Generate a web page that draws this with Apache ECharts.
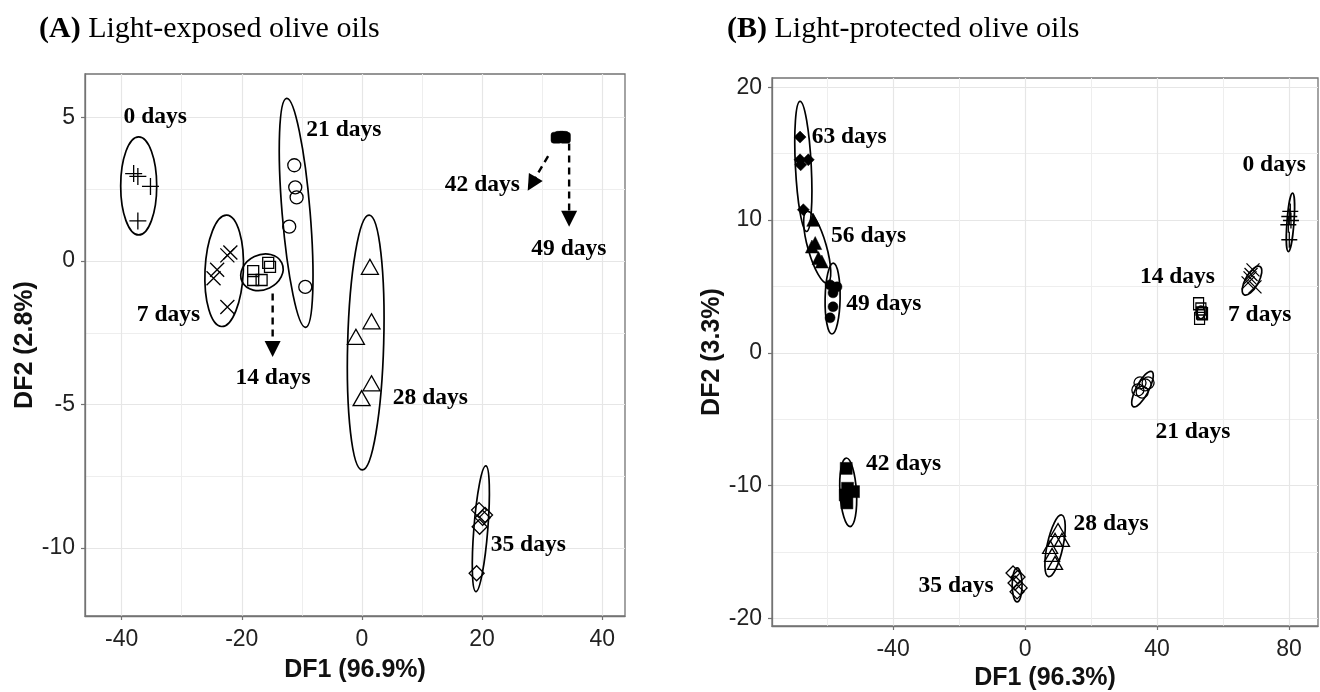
<!DOCTYPE html>
<html><head><meta charset="utf-8">
<script src="https://cdn.jsdelivr.net/npm/echarts@6/dist/echarts.min.js"></script>
<style>html,body{margin:0;padding:0;background:#fff}#c{width:1320px;height:692px}</style>
</head><body><div id="c"></div>
<script>
// ---------- Panel A: light-exposed ----------
const A_day0  = [[-38.0,3.05],[-37.3,2.95],[-35.2,2.6],[-37.3,1.4]];
const A_day7  = [[-21.9,0.3],[-22.4,0.2],[-24.1,-0.3],[-24.7,-0.6],[-22.4,-1.6]];
const A_day14 = [[-15.6,-0.06],[-15.3,-0.2],[-16.7,-0.66],[-18.1,-0.66],[-18.1,-0.35]];
const A_day21 = [[-11.26,3.34],[-11.1,2.57],[-10.87,2.22],[-12.1,1.2],[-9.43,-0.9]];
const A_day28 = [[1.33,-0.2],[1.6,-2.1],[-1.0,-2.64],[1.6,-4.26],[-0.05,-4.78]];
const A_day35 = [[19.5,-8.68],[20.5,-8.85],[20.1,-8.95],[19.6,-9.26],[19.1,-10.88]];
const A_day42_49 = [[32.4,4.3],[33.0,4.33],[33.5,4.33],[33.8,4.3]];
// ellipses: [centerX, centerY, majorHalfDX, majorHalfDY, minorHalfWidthX]
const A_ellipses = [
  [-37.16,2.62,0,1.71,3.0],
  [-22.93,-0.34,0.43,1.94,3.19],
  [-16.64,-0.39,3.3,0.33,2.9],
  [-10.95,1.68,-1.58,3.99,2.33],
  [0.63,-2.84,0.58,4.44,3.0],
  [19.8,-9.33,0.83,2.19,1.16]
];
// arrows: [fromX, fromY, tipX, tipY]
const A_arrows = [[-14.86,-1.13,-14.86,-3.34],[31.0,3.66,27.6,2.45],[34.5,4.1,34.5,1.2]];
const A_labels = [
  ['0 days',-34.4,5.03],['21 days',-3.0,4.56],['42 days',20.05,2.65],['49 days',34.45,0.44],
  ['7 days',-32.2,-1.88],['14 days',-14.8,-4.08],['28 days',11.4,-4.78],['35 days',27.7,-9.9]
];
const A_xTicks = [-40,-20,0,20,40], A_xMinor = [-30,-10,10,30];
const A_yTicks = [-10,-5,0,5], A_yMinor = [-7.5,-2.5,2.5];

// ---------- Panel B: light-protected ----------
const B_day0  = [[80.4,10.65],[80.1,10.27],[80.6,9.97],[79.8,9.65],[80.1,8.52]];
const B_day7  = [[52.6,3.7],[53.3,3.3],[53.8,2.95],[52.9,2.6],[53.5,3.0]];
const B_day14 = [[69.1,6.25],[68.5,5.9],[68.2,5.65],[67.6,5.27],[69.7,4.97]];
const B_day21 = [[34.85,-2.26],[36.4,-2.41],[37.3,-2.26],[34.2,-2.79],[35.5,-2.95]];
const B_day28 = [[10.0,-13.34],[9.1,-14.09],[11.2,-14.09],[7.6,-14.62],[8.2,-15.22],[9.1,-15.82]];
const B_day35 = [[-3.64,-16.58],[-2.12,-16.88],[-3.03,-17.33],[-2.42,-18.0],[-1.5,-17.7]];
const B_day42 = [[-54.2,-8.7],[-54.5,-10.7],[-52.0,-10.45],[-54.0,-11.3],[-53.8,-10.2]];
const B_day49 = [[-59.1,5.12],[-57.0,4.97],[-58.2,4.52],[-58.2,3.47],[-59.1,2.64]];
const B_day56 = [[-64.2,10.02],[-63.6,8.27],[-64.6,8.01],[-62.6,7.14],[-61.6,6.88]];
const B_day63 = [[-68.2,16.25],[-68.2,14.54],[-65.7,14.54],[-68.0,14.16],[-67.2,10.78]];
const B_ellipses = [
  [80.45,9.83,0.65,2.2,1.06],
  [53.3,3.05,0,0.48,1.2],
  [68.8,5.44,2.4,1.06,2.0],
  [35.6,-2.73,2.8,1.32,1.9],
  [9.1,-14.53,2.0,2.32,2.4],
  [-2.4,-17.48,0,1.28,1.5],
  [-53.6,-10.5,-0.6,2.58,2.5],
  [-58.33,4.09,0.2,2.67,2.27],
  [-63.0,7.95,-3.1,2.7,2.8],
  [-67.2,14.04,-1.0,4.9,2.4]
];
const B_labels = [
  ['0 days',75.5,14.17],['63 days',-53.3,16.3],['56 days',-47.4,8.82],['49 days',-42.8,3.69],
  ['14 days',46.2,5.7],['7 days',71.1,2.86],['21 days',50.9,-5.93],['42 days',-36.8,-8.36],
  ['28 days',26.1,-12.9],['35 days',-20.9,-17.56]
];
const B_xTicks = [-40,0,40,80], B_xMinor = [-60,-20,20,60];
const B_yTicks = [-20,-10,0,10,20], B_yMinor = [-15,-5,5,15];

// ---------- rendering ----------
const SERIF = "'Liberation Serif','Times New Roman',serif";
const SANS = "'Liberation Sans',Arial,sans-serif";
const PLUS = 'path://M0,5L10,5M5,0L5,10';
const CROSS = 'path://M0,0L10,10M10,0L0,10';
const clear = 'rgba(0,0,0,0)';

function mainAxis(grid, min, max, ticks, name, gap, isY) {
  return {
    type:'value', gridIndex:grid, min:min, max:max,
    name:name, nameLocation:'middle', nameGap:gap,
    nameTextStyle:{fontFamily:SANS, fontWeight:'bold', fontSize:25, color:'#111'},
    axisLine:{show:true, onZero:false, lineStyle:{color:'#737373', width:1.3}},
    axisTick:{show:true, length:4, customValues:ticks, lineStyle:{color:'#737373', width:1.2}},
    axisLabel:{customValues:ticks, fontFamily:SANS, fontSize:23, color:'#222', margin:isY?10:12},
    splitLine:{show:true, lineStyle:{color:'#e6e6e6', width:1.2}}
  };
}
function minorAxis(grid, min, max, vals) {
  return {
    type:'value', gridIndex:grid, min:min, max:max,
    axisLine:{show:false}, axisTick:{show:false, customValues:vals},
    axisLabel:{show:false, customValues:vals},
    splitLine:{show:true, lineStyle:{color:'#eeeeee', width:1}}
  };
}
function pts(arr, xi, symbol, size, filled) {
  return {
    type:'scatter', xAxisIndex:xi, yAxisIndex:xi, data:arr, symbol:symbol, symbolSize:size,
    silent:true, z:3,
    itemStyle: filled ? {color:'#000', borderColor:'#000', borderWidth:0.5, opacity:1}
                      : {color:clear, borderColor:'#000', borderWidth:1.3, opacity:1}
  };
}
function ellipses(arr, xi) {
  return {
    type:'custom', xAxisIndex:xi, yAxisIndex:xi, data:arr, silent:true, z:2,
    encode:{x:0, y:1},
    renderItem:function(params, api){
      const cx=api.value(0), cy=api.value(1), dx=api.value(2), dy=api.value(3), w=api.value(4);
      const p0=api.coord([cx,cy]), p1=api.coord([cx+dx,cy+dy]), pw=api.coord([cx+w,cy]);
      const a=Math.hypot(p1[0]-p0[0], p1[1]-p0[1]);
      const b=Math.abs(pw[0]-p0[0]);
      const ang=Math.atan2(p1[1]-p0[1], p1[0]-p0[0]);
      return {type:'ellipse', x:p0[0], y:p0[1], rotation:-ang,
        shape:{cx:0, cy:0, rx:a, ry:b},
        style:{fill:'none', stroke:'#000', lineWidth:1.7}};
    }
  };
}
function arrows(arr, xi) {
  return {
    type:'custom', xAxisIndex:xi, yAxisIndex:xi, data:arr, silent:true, z:3,
    encode:{x:[0,2], y:[1,3]},
    renderItem:function(params, api){
      const p0=api.coord([api.value(0),api.value(1)]), p1=api.coord([api.value(2),api.value(3)]);
      const L=Math.hypot(p1[0]-p0[0], p1[1]-p0[1]);
      const ux=(p1[0]-p0[0])/L, uy=(p1[1]-p0[1])/L;
      const hl=16, hw=8;
      const bx=p1[0]-ux*hl, by=p1[1]-uy*hl;
      return {type:'group', children:[
        {type:'line', shape:{x1:p0[0], y1:p0[1], x2:bx+ux*2, y2:by+uy*2},
         style:{stroke:'#000', lineWidth:2.4, lineDash:[7,5]}},
        {type:'polygon', shape:{points:[[p1[0],p1[1]],[bx-uy*hw,by+ux*hw],[bx+uy*hw,by-ux*hw]]},
         style:{fill:'#000'}}
      ]};
    }
  };
}
function labels(arr, xi) {
  return {
    type:'custom', xAxisIndex:xi, yAxisIndex:xi, silent:true, z:4,
    data:arr.map(l=>[l[1],l[2]]), encode:{x:0, y:1},
    renderItem:function(params, api){
      const p=api.coord([api.value(0),api.value(1)]);
      return {type:'text', x:p[0], y:p[1],
        style:{text:arr[params.dataIndex][0], fill:'#000',
          font:"bold 23.5px 'Liberation Serif','Times New Roman',serif",
          textAlign:'center', textVerticalAlign:'middle'}};
    }
  };
}

const titleStyle = {fontFamily:SERIF, fontSize:30, fontWeight:'normal', color:'#000',
  rich:{b:{fontFamily:SERIF, fontSize:30, fontWeight:'bold', color:'#000'}}};
const option = {
  animation:false,
  backgroundColor:'#fff',
  title:[
    {text:'{b|(A)} Light-exposed olive oils', left:34, top:9, textStyle:titleStyle},
    {text:'{b|(B)} Light-protected olive oils', left:722, top:9, textStyle:titleStyle}
  ],
  grid:[
    {left:85, top:74, width:540, height:542, show:true, borderColor:'#737373', borderWidth:1.3,
     containLabel:false, outerBoundsMode:'none'},
    {left:772, top:78, width:546, height:548, show:true, borderColor:'#737373', borderWidth:1.3,
     containLabel:false, outerBoundsMode:'none'}
  ],
  xAxis:[
    mainAxis(0,-46.1,43.8,A_xTicks,'DF1 (96.9%)',42,false),
    mainAxis(1,-76.7,88.8,B_xTicks,'DF1 (96.3%)',40,false),
    minorAxis(0,-46.1,43.8,A_xMinor),
    minorAxis(1,-76.7,88.8,B_xMinor)
  ],
  yAxis:[
    mainAxis(0,-12.37,6.52,A_yTicks,'DF2 (2.8%)',42,true),
    mainAxis(1,-20.57,20.7,B_yTicks,'DF2 (3.3%)',41,true),
    minorAxis(0,-12.37,6.52,A_yMinor),
    minorAxis(1,-20.57,20.7,B_yMinor)
  ],
  series:[
    ellipses(A_ellipses,0),
    pts(A_day0,0,PLUS,17,false),
    pts(A_day7,0,CROSS,14,false),
    pts(A_day14,0,'rect',11,false),
    pts(A_day21,0,'circle',13,false),
    pts(A_day28,0,'triangle',[17,15],false),
    pts(A_day35,0,'diamond',15,false),
    pts(A_day42_49,0,'roundRect',11,true),
    arrows(A_arrows,0),
    labels(A_labels,0),

    ellipses(B_ellipses,1),
    pts(B_day0,1,PLUS,16,false),
    pts(B_day7,1,'rect',[10,12],false),
    pts(B_day14,1,CROSS,13,false),
    pts(B_day21,1,'circle',12,false),
    pts(B_day28,1,'triangle',[15,13],false),
    pts(B_day35,1,'diamond',14,false),
    pts(B_day42,1,'rect',12,true),
    pts(B_day49,1,'circle',10,true),
    pts(B_day56,1,'triangle',13,true),
    pts(B_day63,1,'diamond',12,true),
    labels(B_labels,1)
  ]
};
const chart = echarts.init(document.getElementById('c'));
chart.setOption(option);
</script></body></html>
